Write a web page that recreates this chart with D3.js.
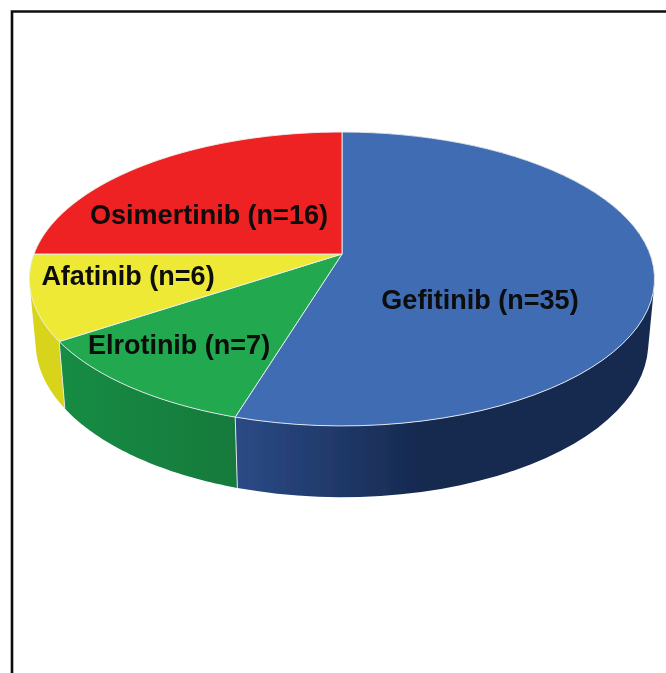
<!DOCTYPE html>
<html>
<head>
<meta charset="utf-8">
<script src="https://cdn.jsdelivr.net/npm/d3@7"></script>
<style>
  html, body { margin: 0; padding: 0; background: #fff; }
  svg { display: block; }
  text { font-family: "Liberation Sans", Arial, sans-serif; font-weight: bold; fill: #0a0a0a; }
</style>
</head>
<body>
<div id="chart"></div>
<script>
// data
const drugs = ["Gefitinib", "Elrotinib", "Afatinib", "Osimertinib"];
const counts = [35, 7, 6, 16];

// styling per slice
const topColors = ["#3f6cb4", "#22a84f", "#eee936", "#ee2024"];
const wallStart = ["#2b4a86", "#128c44", "#d8d41f"];
const wallEnd = ["#162a50", "#127a3c", "#d8d41f"];
const labelX = [480, 179, 128, 209];
const labelY = [309, 354, 285, 224];

const width = 666, height = 673;

// the pie is a tilted disc, so the centre sits above the middle of the ellipse
const apex = { x: 342, y: 254 };
const spreadX = 308, spreadY = 142.7, tilt = 0.17;
const ellipseMid = 281;
const baseMid = 345, baseScaleX = 0.98, baseScaleY = 1.05;

function project(angle) {
  const u = Math.sin(angle), v = Math.cos(angle);
  const w = 1 + tilt * v;
  return [apex.x + spreadX * u / w, apex.y - spreadY * v / w];
}

function toBase(p) {
  return [apex.x + (p[0] - apex.x) * baseScaleX, baseMid + (p[1] - ellipseMid) * baseScaleY];
}

function edge(a0, a1) {
  return d3.range(0, 61).map(function(i) { return project(a0 + (a1 - a0) * i / 60); });
}

const svg = d3.select("#chart").append("svg")
    .attr("width", width)
    .attr("height", height);

const defs = svg.append("defs");

defs.append("filter").attr("id", "soft")
  .append("feGaussianBlur").attr("stdDeviation", 0.45);

const line = d3.line();
const arcs = d3.pie().sort(null)(counts);

const g = svg.append("g").attr("filter", "url(#soft)");

// frame
g.append("path")
    .attr("d", "M12,673V11.5H666")
    .attr("fill", "none")
    .attr("stroke", "#111")
    .attr("stroke-width", 2.6);

// walls first, the top face covers whatever lies behind it
// Osimertinib is at the back and has no wall of its own, the yellow one runs on behind it
arcs.slice(0, 3).forEach(function(d, i) {
  const end = i == 2 ? d.endAngle + 0.6 : d.endAngle;
  const top = edge(d.startAngle, end);
  const xs = top.map(function(p) { return p[0]; });

  const grad = defs.append("linearGradient")
      .attr("id", "wall" + i)
      .attr("gradientUnits", "userSpaceOnUse")
      .attr("x1", i == 0 ? 238 : d3.min(xs)).attr("x2", i == 0 ? 420 : d3.max(xs))
      .attr("y1", 0).attr("y2", 0);
  grad.append("stop").attr("offset", 0).attr("stop-color", wallStart[i]);
  grad.append("stop").attr("offset", 1).attr("stop-color", wallEnd[i]);

  // one quad per step, all wound the same way so they add up where the ellipses cross
  const quads = d3.pairs(top).map(function(s) {
    const quad = [s[0], s[1], toBase(s[1]), toBase(s[0])];
    if (d3.polygonArea(quad) < 0) quad.reverse();
    return line(quad) + "Z";
  });

  g.append("path")
      .attr("d", quads.join(""))
      .attr("fill", "url(#wall" + i + ")");
});

// light seams between the front walls
[arcs[0].endAngle, arcs[1].endAngle].forEach(function(a) {
  const p = project(a);
  g.append("path")
      .attr("d", line([p, toBase(p)]))
      .attr("stroke", "#dfe6e0")
      .attr("stroke-width", 1);
});

// top face
g.selectAll(".slice")
    .data(arcs)
    .enter()
    .append("path")
    .attr("class", "slice")
    .attr("d", function(d) {
      return line([[apex.x, apex.y]].concat(edge(d.startAngle, d.endAngle))) + "Z";
    })
    .attr("fill", function(d, i) { return topColors[i]; })
    .attr("stroke", "#eceff1")
    .attr("stroke-width", 0.9)
    .attr("stroke-linejoin", "round");

// labels
g.selectAll(".label")
    .data(arcs)
    .enter()
    .append("text")
    .attr("class", "label")
    .attr("x", function(d, i) { return labelX[i]; })
    .attr("y", function(d, i) { return labelY[i]; })
    .attr("text-anchor", "middle")
    .attr("font-size", 27)
    .text(function(d, i) { return drugs[i] + " (n=" + d.data + ")"; });
</script>
</body>
</html>
